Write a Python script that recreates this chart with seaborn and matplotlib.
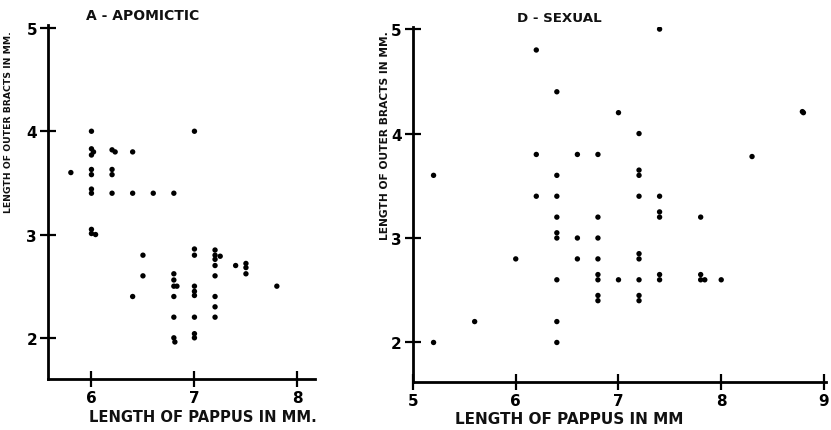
import numpy as np
import pandas as pd
import matplotlib
matplotlib.use("Agg")
import matplotlib.pyplot as plt
import seaborn as sns

# A - apomictic: pappus length vs outer bract length (mm)
apo_pappus = [6.0, 7.0,
              6.0, 6.0, 6.02, 6.2, 6.23, 6.4,
              5.8, 6.0, 6.0, 6.2, 6.2,
              6.0, 6.0, 6.2, 6.4, 6.6, 6.8,
              6.0, 6.0, 6.04,
              6.5, 6.5, 6.4,
              6.8, 6.8, 6.8, 6.83, 6.8, 6.8, 6.8, 6.81,
              7.0, 7.0, 7.0, 7.0, 7.0, 7.0, 7.0, 7.0,
              7.2, 7.2, 7.25, 7.2, 7.2, 7.2, 7.2, 7.2, 7.2,
              7.4, 7.5, 7.5, 7.5,
              7.8]
apo_bracts = [4.0, 4.0,
              3.83, 3.77, 3.8, 3.82, 3.8, 3.8,
              3.6, 3.63, 3.58, 3.63, 3.58,
              3.44, 3.4, 3.4, 3.4, 3.4, 3.4,
              3.05, 3.01, 3.0,
              2.8, 2.6, 2.4,
              2.62, 2.56, 2.5, 2.5, 2.4, 2.2, 2.0, 1.96,
              2.86, 2.8, 2.5, 2.45, 2.41, 2.2, 2.04, 2.0,
              2.85, 2.8, 2.79, 2.76, 2.7, 2.6, 2.4, 2.3, 2.2,
              2.7, 2.72, 2.68, 2.62,
              2.5]

# D - sexual
sex_pappus = [7.4, 6.2, 6.4, 7.0, 8.8, 8.79, 7.2,
              6.2, 6.6, 6.8, 8.3,
              5.2, 6.4, 7.2, 7.2,
              6.2, 6.4, 7.2, 7.4,
              6.4, 6.8, 7.4, 7.4, 7.8,
              6.4, 6.4, 6.6, 6.8,
              6.0, 6.6, 6.8, 7.2, 7.2,
              6.4, 6.8, 6.8, 7.0, 7.2, 7.4, 7.4, 7.8, 7.8, 7.84, 8.0,
              6.8, 6.8, 7.2, 7.2,
              5.6, 6.4, 5.2, 6.4]
sex_bracts = [5.0, 4.8, 4.4, 4.2, 4.2, 4.21, 4.0,
              3.8, 3.8, 3.8, 3.78,
              3.6, 3.6, 3.65, 3.6,
              3.4, 3.4, 3.4, 3.4,
              3.2, 3.2, 3.25, 3.2, 3.2,
              3.05, 3.0, 3.0, 3.0,
              2.8, 2.8, 2.8, 2.85, 2.8,
              2.6, 2.65, 2.6, 2.6, 2.6, 2.65, 2.6, 2.65, 2.6, 2.6, 2.6,
              2.45, 2.4, 2.45, 2.4,
              2.2, 2.2, 2.0, 2.0]

apo_df = pd.DataFrame({"pappus": apo_pappus, "bracts": apo_bracts})
sex_df = pd.DataFrame({"pappus": sex_pappus, "bracts": sex_bracts})

sns.set_style("ticks")
plt.rcParams["font.family"] = ["DejaVu Sans"]
plt.rcParams["font.weight"] = "bold"

W, H = 831, 431
fig = plt.figure(figsize=(W / 100, H / 100), dpi=100)
ax1 = fig.add_axes([0.058, 0.118, 0.321, 0.822])
ax2 = fig.add_axes([0.497, 0.111, 0.497, 0.824])

def style_axes(ax, xticks, xlim, ylim):
    ax.set_xlim(*xlim)
    ax.set_ylim(*ylim)
    ax.set_xticks(xticks)
    ax.set_yticks([2, 3, 4, 5])
    for side in ("top", "right"):
        ax.spines[side].set_visible(False)
    for side in ("left", "bottom"):
        ax.spines[side].set_linewidth(2)
        ax.spines[side].set_color("black")
    ax.tick_params(direction="inout", length=12, width=1.6, colors="black",
                   labelsize=11, pad=2)
    for lab in ax.get_xticklabels() + ax.get_yticklabels():
        lab.set_fontweight("bold")
    ax.set_xlabel("")
    ax.set_ylabel("")

sns.scatterplot(data=apo_df, x="pappus", y="bracts", ax=ax1, color="black",
                s=15, edgecolor="none", linewidth=0)
style_axes(ax1, [6, 7, 8], (5.58, 8.17), (1.6, 5.03))

sns.scatterplot(data=sex_df, x="pappus", y="bracts", ax=ax2, color="black",
                s=15, edgecolor="none", linewidth=0)
style_axes(ax2, [5, 6, 7, 8, 9], (5.0, 9.02), (1.62, 5.02))

# hand lettering in the scan is narrow: size each text so its length matches
renderer = fig.canvas.get_renderer()

def fit_text(s, cx, cy, length, rotation=0):
    t = fig.text(cx / W, 1 - cy / H, s, fontsize=10, fontweight="bold",
                 ha="center", va="center", rotation=rotation, color="#111111")
    bb = t.get_window_extent(renderer)
    cur = bb.height if rotation else bb.width
    t.set_fontsize(10 * length / cur)
    return t

fit_text("A - APOMICTIC", 143, 16.5, 113)
fit_text("D - SEXUAL", 559, 18.5, 85)
fit_text("LENGTH OF PAPPUS IN MM.", 203, 418, 228)
fit_text("LENGTH OF PAPPUS IN MM", 569, 420, 230)
fit_text("LENGTH OF OUTER BRACTS IN MM.", 9, 122, 181, rotation=90)
fit_text("LENGTH OF OUTER BRACTS IN MM.", 385, 136, 208, rotation=90)

fig.savefig("out.png", dpi=100)
